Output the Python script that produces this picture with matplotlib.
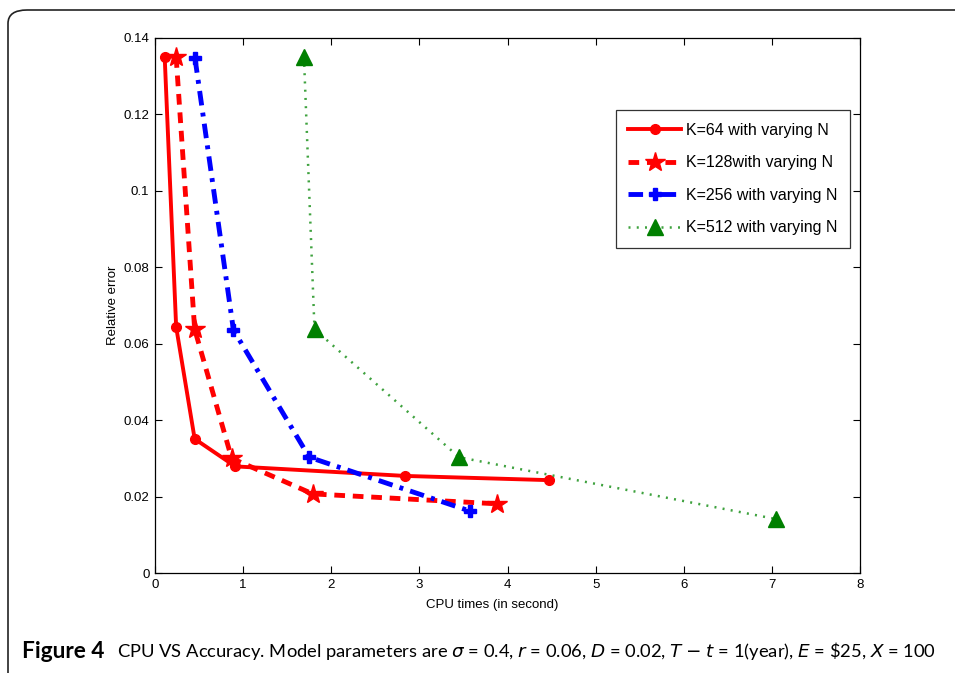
#!/usr/bin/env python3
"""CPU time versus relative error for several K values (Figure 4)."""

import matplotlib

matplotlib.use("Agg")
import matplotlib.pyplot as plt
from matplotlib.patches import FancyBboxPatch

# CPU time (s) and relative error for each K, N increasing along the curve
K64_CPU = [0.11, 0.24, 0.45, 0.91, 2.84, 4.47]
K64_ERR = [0.1350, 0.0644, 0.0351, 0.0279, 0.0254, 0.0243]

K128_CPU = [0.24, 0.45, 0.87, 1.79, 3.885]
K128_ERR = [0.1350, 0.0638, 0.0300, 0.0207, 0.0181]

K256_CPU = [0.454, 0.89, 1.75, 3.575]
K256_ERR = [0.1347, 0.0636, 0.0303, 0.0162]

K512_CPU = [1.69, 1.81, 3.45, 7.05]
K512_ERR = [0.1351, 0.0638, 0.0303, 0.0141]

LABELS = [
    "K=64 with varying N",
    "K=128with varying N",
    "K=256 with varying N",
    "K=512 with varying N",
]

X_TICKS = [0, 1, 2, 3, 4, 5, 6, 7, 8]
Y_TICKS = [0, 0.02, 0.04, 0.06, 0.08, 0.1, 0.12, 0.14]
Y_TICK_LABELS = ["0", "0.02", "0.04", "0.06", "0.08", "0.1", "0.12", "0.14"]

TICK_FONT = "Liberation Sans"


def main():
    fig = plt.figure(figsize=(9.55, 6.73), dpi=100)

    # rounded frame around the figure panel
    frame = FancyBboxPatch(
        (8 / 955, -0.05),
        1.2,
        1.05 - 10 / 673,
        boxstyle="round,pad=0,rounding_size=0.02",
        transform=fig.transFigure,
        facecolor="none",
        edgecolor="#222222",
        linewidth=1.2,
        clip_on=False,
    )
    fig.patches.append(frame)

    ax = fig.add_axes([155 / 955, 1 - 573 / 673, 705 / 955, 535 / 673])

    ax.plot(
        K64_CPU, K64_ERR,
        color="red", linestyle="-", linewidth=2.8,
        marker="o", markersize=7,
        label=LABELS[0],
    )
    ax.plot(
        K128_CPU, K128_ERR,
        color="red", linestyle=(0, (2.2, 1.6)), linewidth=3.5,
        marker="*", markersize=15,
        label=LABELS[1],
    )
    ax.plot(
        K256_CPU, K256_ERR,
        color="blue", linestyle=(0, (3, 1.5, 0.8, 1.5)), linewidth=3.5,
        marker="P", markersize=8,
        label=LABELS[2],
    )
    ax.plot(
        K512_CPU, K512_ERR,
        color="#3fa23f", linestyle=(0, (0.8, 2.5)), linewidth=1.8,
        marker="^", markersize=11,
        markerfacecolor="#008000", markeredgecolor="#008000",
        label=LABELS[3],
    )

    ax.set_xlim(0, 8)
    ax.set_ylim(0, 0.14)
    ax.set_xticks(X_TICKS)
    ax.set_yticks(Y_TICKS)
    ax.set_yticklabels(Y_TICK_LABELS)

    ax.tick_params(
        direction="in", top=True, right=True,
        length=5, width=0.8, labelsize=9.5, pad=4,
    )
    for lab in ax.get_xticklabels() + ax.get_yticklabels():
        lab.set_fontfamily(TICK_FONT)
    for spine in ax.spines.values():
        spine.set_linewidth(0.9)

    ax.set_xlabel("CPU times (in second)", fontsize=9.5, family=TICK_FONT)
    ax.xaxis.set_label_coords(337 / 705, -26 / 535)
    ax.set_ylabel("Relative error", fontsize=9.5, family=TICK_FONT)
    ax.yaxis.set_label_coords(-36 / 705, 0.5)

    legend = ax.legend(
        loc="upper right",
        bbox_to_anchor=(695 / 705, 1 - 72 / 535),
        prop={"family": TICK_FONT, "size": 11.5},
        frameon=True,
        fancybox=False,
        edgecolor="black",
        handlelength=3.3,
        labelspacing=1.1,
        borderpad=0.8,
        handletextpad=0.3,
        borderaxespad=0,
    )
    legend.get_frame().set_linewidth(0.9)

    fig.text(
        22 / 955, 1 - 651 / 673, "Figure 4",
        fontsize=16.3, fontweight="bold", family="Lato", va="center",
    )
    fig.text(
        117 / 955, 1 - 651 / 673,
        r"CPU VS Accuracy. Model parameters are $\sigma$ = 0.4, $r$ = 0.06, "
        r"$D$ = 0.02, $T$ $-$ $t$ = 1(year), $E$ = \$25, $X$ = 100",
        fontsize=13.2, family="Lato", va="center",
    )

    fig.savefig("out.png", dpi=100)


if __name__ == "__main__":
    main()
